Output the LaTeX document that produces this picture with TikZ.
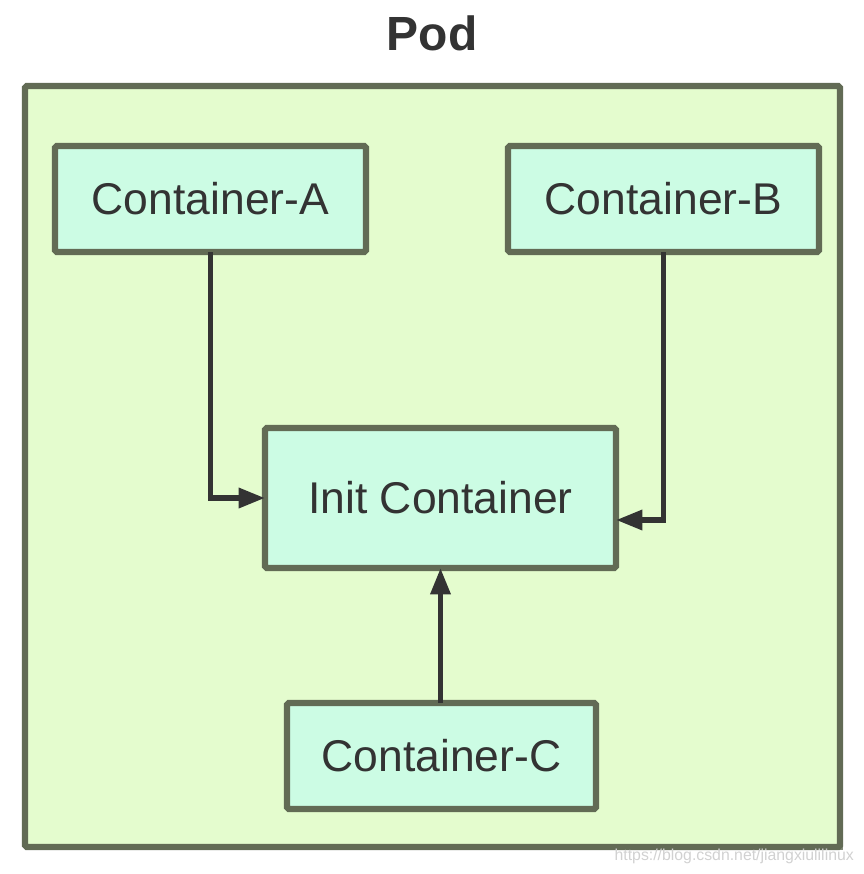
\documentclass[tikz,border=0pt]{standalone}
\usepackage{fontspec}
\setmainfont{Liberation Sans}
\usetikzlibrary{arrows.meta}
\definecolor{podfill}{HTML}{E4FCCE}
\definecolor{boxfill}{HTML}{CCFCE4}
\definecolor{edge}{HTML}{626B55}
\definecolor{ink}{HTML}{333333}
\tikzset{
  container/.style={draw=edge, fill=boxfill, line width=3.6pt, rounded corners=1pt,
    text=ink, font=\fontsize{25.3}{30}\selectfont, inner sep=0pt, outer sep=0pt},
  link/.style={draw=ink, line width=3.1pt, -{Triangle[length=15pt,width=11pt]}}
}
\begin{document}
\begin{tikzpicture}
  \useasboundingbox (0,0) rectangle (17.28,-17.48);
  \fill [edge!80] (0.56,-1.78) rectangle (16.86,-17.0);
  \draw [edge, fill=podfill, line width=3.6pt, rounded corners=1pt] (0.5,-1.72) rectangle (16.8,-16.94);
  \node (pod) [text=ink, font=\bfseries\fontsize{27.3}{32}\selectfont] at (8.64,-0.66) {Pod};
  \node (a) [container, minimum width=6.22cm, minimum height=2.12cm] at (4.21,-3.98) {Container-A};
  \node (b) [container, minimum width=6.22cm, minimum height=2.12cm] at (13.27,-3.98) {Container-B};
  \node (init) [container, minimum width=7.02cm, minimum height=2.8cm] at (8.81,-9.96) {Init Container};
  \node (c) [container, minimum width=6.18cm, minimum height=2.12cm] at (8.83,-15.12) {Container-C};
  \draw [link] (a.south) |- (init.west);
  \draw [link] (b.south) |- ([yshift=-0.44cm]init.east);
  \draw [link] (c.north -| init.south) -- (init.south);
  \node (mark) [text=black!18, font=\fontsize{9}{10}\selectfont, anchor=east] at (17.2,-17.12) {https://blog.csdn.net/jiangxiulilinux};
\end{tikzpicture}
\end{document}
